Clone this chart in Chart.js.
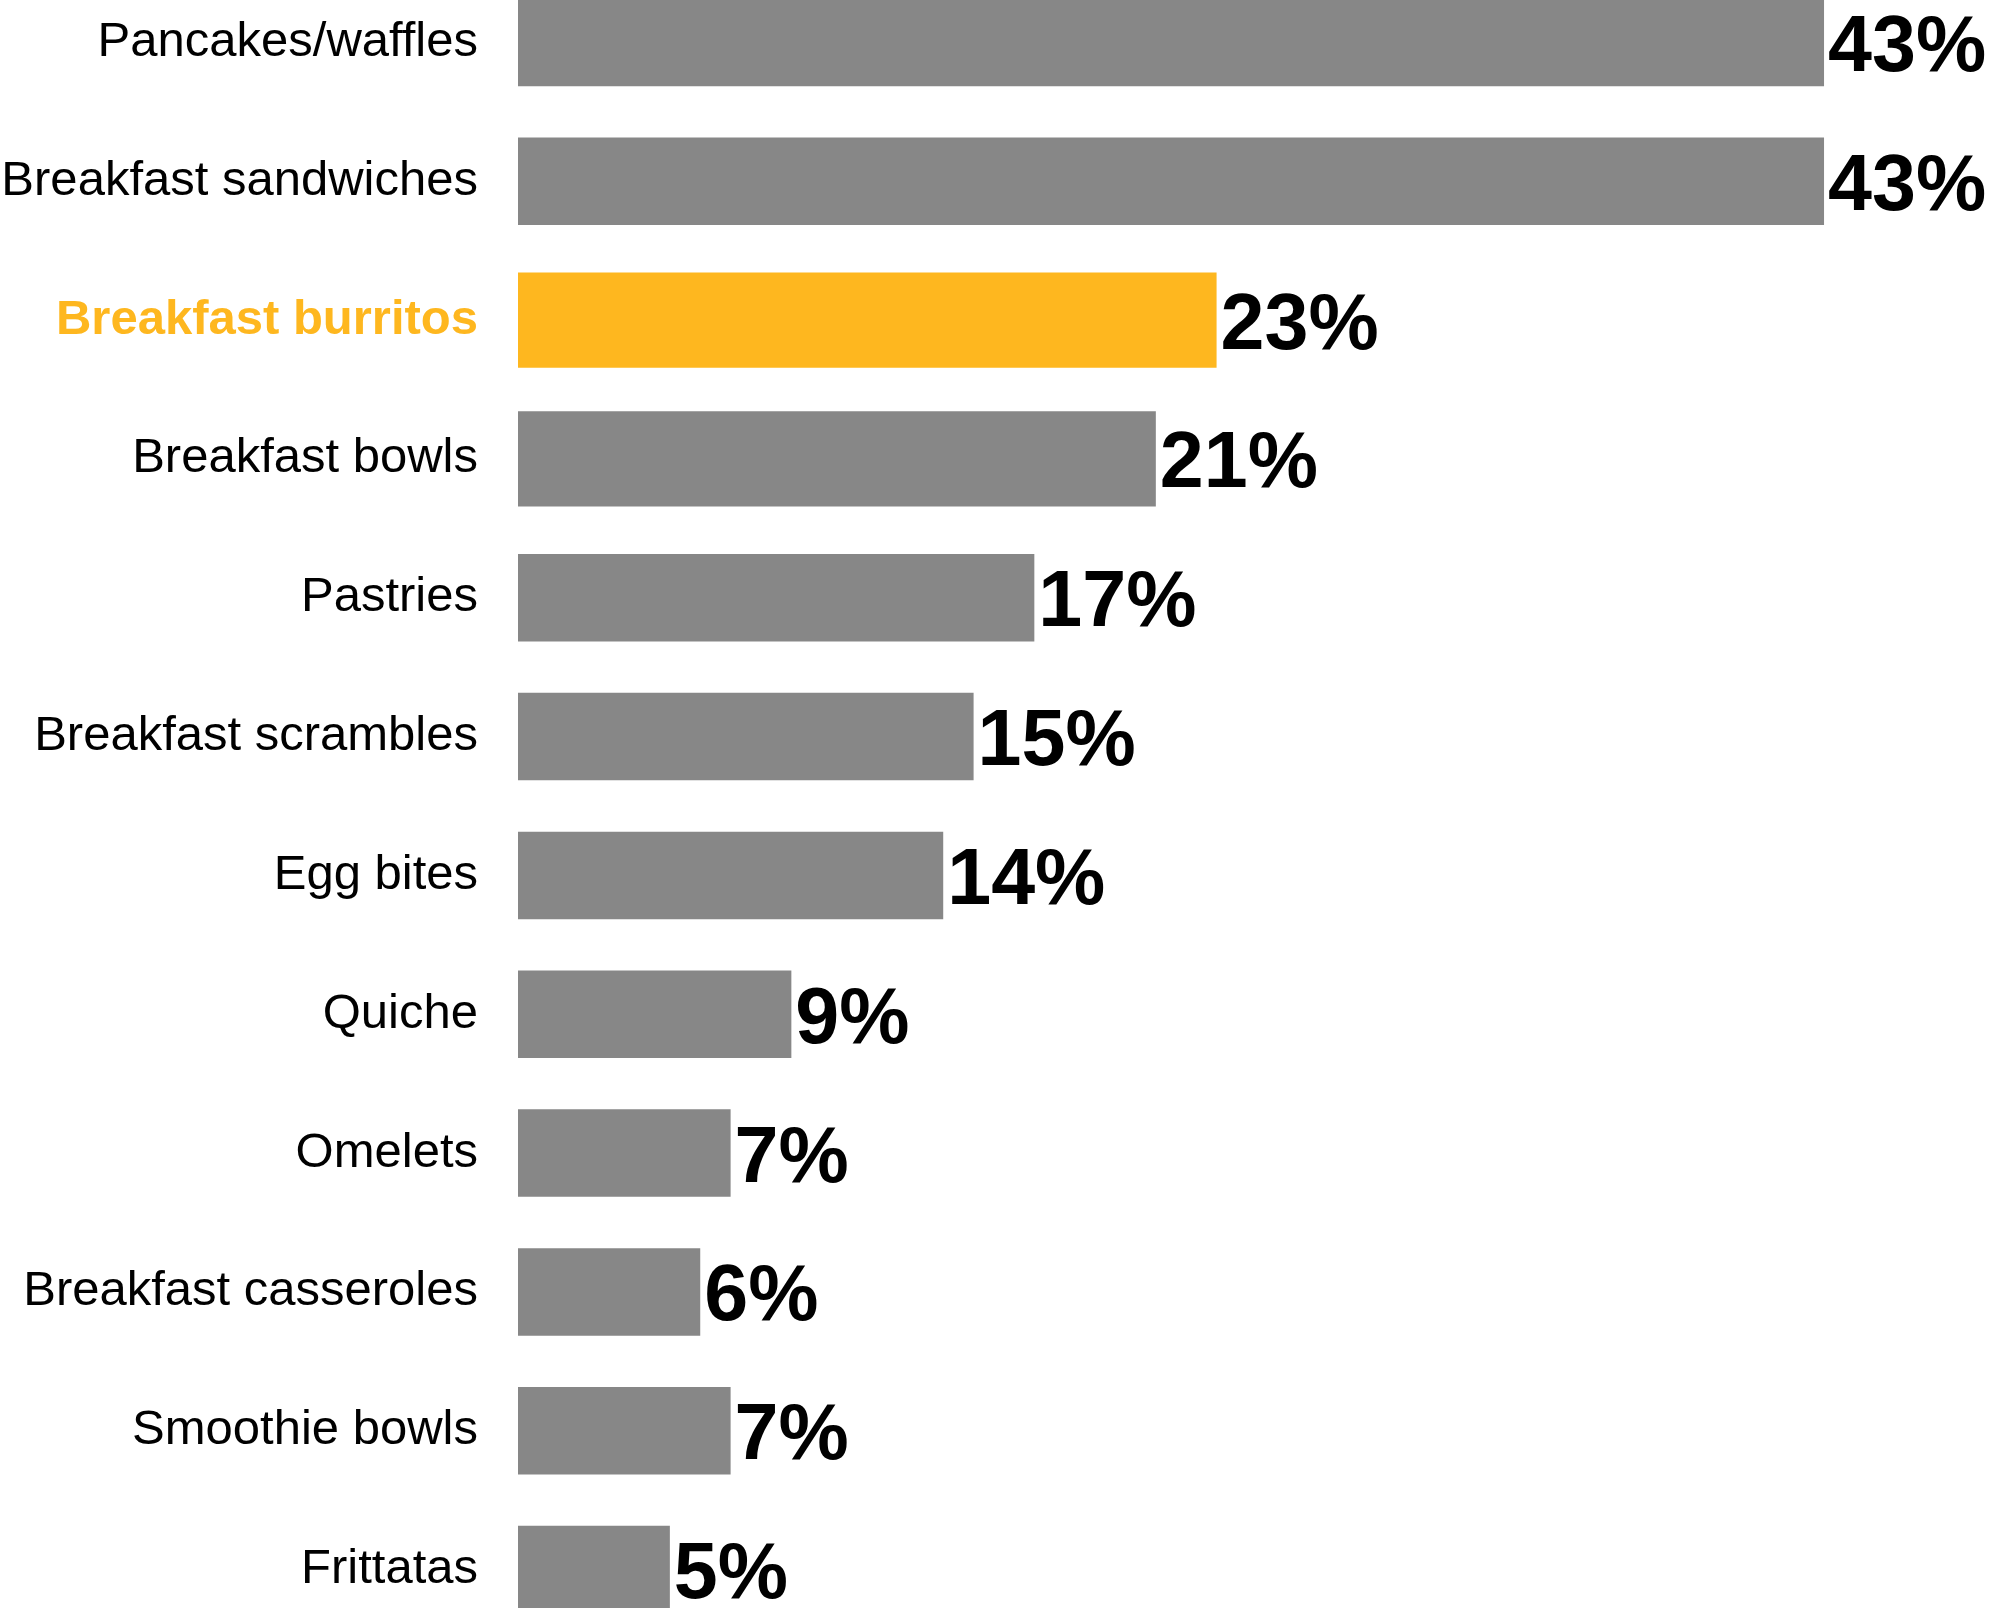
<!DOCTYPE html>
<html>
<head>
<meta charset="utf-8">
<title>Breakfast items</title>
<script src="https://cdn.jsdelivr.net/npm/chart.js@4/dist/chart.umd.min.js"></script>
<style>
  html, body { margin: 0; padding: 0; background: #ffffff; overflow: hidden; }
  body { width: 1992px; height: 1608px; position: relative; }
  #wrap { position: absolute; left: 0; top: -27px; width: 1992px; height: 1666px; }
</style>
</head>
<body>
<div id="wrap"><canvas id="chart" width="1992" height="1666"></canvas></div>
<script>
// Share of respondents per breakfast item (percent)
const categories = [
  'Pancakes/waffles', 'Breakfast sandwiches', 'Breakfast burritos', 'Breakfast bowls',
  'Pastries', 'Breakfast scrambles', 'Egg bites', 'Quiche', 'Omelets',
  'Breakfast casseroles', 'Smoothie bowls', 'Frittatas'
];
const values = [43, 43, 23, 21, 17, 15, 14, 9, 7, 6, 7, 5];
const valueLabels = values.map(v => v + '%');
const highlightIndex = 2;
// rows drawn with a slightly thicker bar
const thickRows = [2, 3];

const GRAY = '#878787';
const ORANGE = '#FEB71F';

const barColor = i => i === highlightIndex ? ORANGE : GRAY;

// Draws the bold percentage right after the end of each bar
const valueLabelPlugin = {
  id: 'valueLabels',
  afterDatasetsDraw(chart) {
    const { ctx } = chart;
    const size = 79;
    ctx.save();
    ctx.font = 'bold ' + size + 'px "Liberation Sans", Arial, sans-serif';
    ctx.fillStyle = '#000000';
    ctx.textAlign = 'left';
    ctx.textBaseline = 'alphabetic';
    chart.data.datasets.forEach((ds, di) => {
      const meta = chart.getDatasetMeta(di);
      meta.data.forEach((bar, i) => {
        if (ds.data[i] == null) return;
        const p = bar.getProps(['x', 'y'], true);
        ctx.fillText(valueLabels[i], p.x + 4, p.y + size * 0.36);
      });
    });
    ctx.restore();
  }
};

new Chart(document.getElementById('chart'), {
  type: 'bar',
  data: {
    labels: categories,
    datasets: [{
      data: values.map((v, i) => thickRows.includes(i) ? null : v),
      backgroundColor: values.map((v, i) => barColor(i)),
      borderWidth: 0,
      categoryPercentage: 1,
      barPercentage: 0.63
    }, {
      data: values.map((v, i) => thickRows.includes(i) ? v : null),
      backgroundColor: values.map((v, i) => barColor(i)),
      borderWidth: 0,
      categoryPercentage: 1,
      barPercentage: 0.685
    }]
  },
  options: {
    indexAxis: 'y',
    responsive: false,
    animation: false,
    devicePixelRatio: 1,
    grouped: false,
    layout: { padding: 0 },
    plugins: {
      legend: { display: false },
      tooltip: { enabled: false }
    },
    scales: {
      x: {
        display: false,
        min: 0,
        max: 48.53
      },
      y: {
        grid: { display: false, drawTicks: false },
        border: { display: false },
        ticks: {
          padding: 40,
          color: ctx => ctx.index === highlightIndex ? ORANGE : '#000000',
          font: ctx => ({
            family: '"Liberation Sans", Arial, sans-serif',
            size: 49,
            weight: ctx.index === highlightIndex ? 'bold' : 'normal'
          })
        },
        afterFit(scale) {
          scale.width = 518;
          scale.paddingTop = 0;
          scale.paddingBottom = 0;
        }
      }
    }
  },
  plugins: [valueLabelPlugin]
});
</script>
</body>
</html>
